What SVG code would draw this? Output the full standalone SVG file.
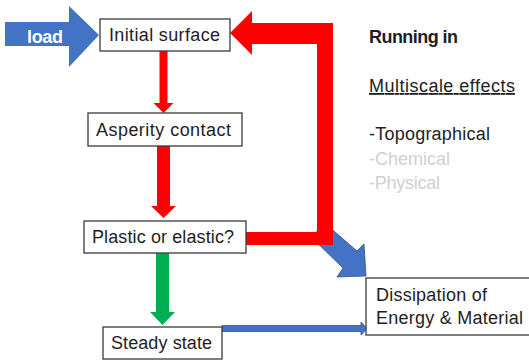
<svg xmlns="http://www.w3.org/2000/svg" width="529" height="360" viewBox="0 0 529 360">
<style>
.box{fill:#fff;stroke:#3a3a3a;stroke-width:1.3}
.t{font-family:"Liberation Sans",Arial,sans-serif;font-size:18px;fill:#1e1e1e}
.red{fill:#ff0000}
.blue{fill:#4472c4}
.blueS{fill:#4472c4;stroke:#2f528f;stroke-width:0.8}
.green{fill:#00b050}
</style>
<rect width="529" height="360" fill="#fff"/>
<g id="connectors">
  <polygon class="blueS" points="327,225 357,251 364,244 366,276 337,277 343,268 310,236"/>
  <polygon class="red" points="230,33 252,11 252,23 333,23 333,245 246,245 246,232 317,232 317,44 252,44 252,55"/>
  <polygon class="red" points="159.5,51 167.5,51 167.5,103 173.5,103 163.5,113 153.5,103 159.5,103"/>
  <polygon class="red" points="157,146 170,146 170,206 176,206 163.5,218 151,206 157,206"/>
  <polygon class="green" points="156,253 169,253 169,312 175,312 162.5,325 150,312 156,312"/>
  <polygon class="blueS" points="222,325.5 361,325.5 361,322 367,328.5 361,335 361,331.5 222,331.5"/>
</g>
<g id="load">
  <polygon class="blue" points="5,22 69,22 69,6 99,35 69,67 69,46 5,46"/>
  <text class="t" x="27" y="43" font-weight="bold" style="fill:#fff" textLength="36">load</text>
</g>
<g id="initial-surface">
  <rect class="box" x="100" y="19" width="130" height="32"/>
  <text class="t" x="109" y="41" textLength="111">Initial surface</text>
</g>
<g id="asperity-contact">
  <rect class="box" x="88" y="113" width="154" height="33"/>
  <text class="t" x="96" y="136" textLength="135">Asperity contact</text>
</g>
<g id="plastic-or-elastic">
  <rect class="box" x="84" y="221" width="162" height="32"/>
  <text class="t" x="92" y="243" textLength="142">Plastic or elastic?</text>
</g>
<g id="steady-state">
  <rect class="box" x="103" y="327" width="119" height="32"/>
  <text class="t" x="111" y="349" textLength="101">Steady state</text>
</g>
<g id="dissipation">
  <rect class="box" x="366" y="278" width="165" height="57"/>
  <text class="t" x="376" y="301" textLength="111">Dissipation of</text>
  <text class="t" x="376" y="324" textLength="147">Energy &amp; Material</text>
</g>
<g id="legend">
  <text class="t" x="369" y="43" font-weight="bold" textLength="89">Running in</text>
  <text class="t" x="369" y="92" textLength="146" text-decoration="underline">Multiscale effects</text>
  <text class="t" x="369" y="140" textLength="121">-Topographical</text>
  <text class="t" x="369" y="165" textLength="81" style="fill:#d0d0d0">-Chemical</text>
  <text class="t" x="369" y="189" textLength="71" style="fill:#d0d0d0">-Physical</text>
</g>
</svg>
